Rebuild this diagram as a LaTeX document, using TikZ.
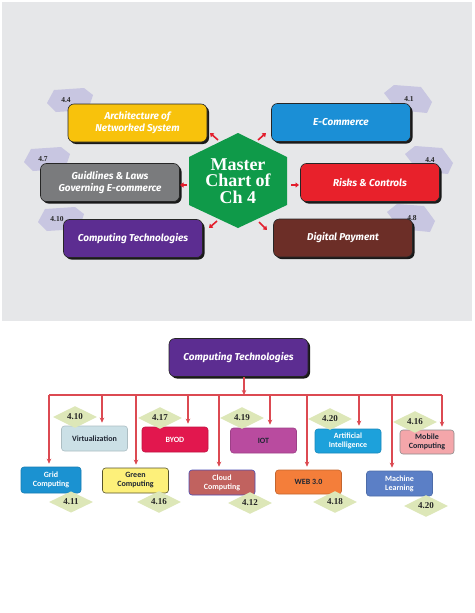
\documentclass[tikz,border=0pt]{standalone}
\usepackage{fontspec}
\setmainfont{Liberation Serif}
\newfontfamily\boxfont{Fira Sans}
\newfontfamily\calfont{Carlito}
\usetikzlibrary{arrows.meta,shapes.geometric,shadows}

\definecolor{panelgray}{HTML}{E6E7E9}
\definecolor{tagcol}{HTML}{C8C6E1}
\definecolor{diacol}{HTML}{DDE7B8}
\definecolor{linered}{HTML}{DC4A52}
\definecolor{arrred}{HTML}{E31E2D}
\definecolor{archcol}{HTML}{F8C20C}
\definecolor{ecomcol}{HTML}{1B8FD6}
\definecolor{guidecol}{HTML}{7A7B7D}
\definecolor{compcol}{HTML}{5C2D91}
\definecolor{riskcol}{HTML}{E8212B}
\definecolor{paycol}{HTML}{6C2E27}
\definecolor{mastercol}{HTML}{0F9A49}
\definecolor{virtcol}{HTML}{CBE0E6}
\definecolor{byodcol}{HTML}{E2174E}
\definecolor{iotcol}{HTML}{B94B9F}
\definecolor{aicol}{HTML}{1DA1DB}
\definecolor{mobcol}{HTML}{F4A6AA}
\definecolor{gridcol}{HTML}{1B92D1}
\definecolor{greencol}{HTML}{FDF07A}
\definecolor{cloudcol}{HTML}{C1625F}
\definecolor{webcol}{HTML}{F47E3A}
\definecolor{mlcol}{HTML}{5B7FC6}
\definecolor{darktext}{HTML}{1F2633}

\tikzset{
  topbox/.style={rounded corners=6pt, draw=black!85, line width=0.6pt,
    minimum width=139pt, minimum height=38pt, align=center, text=white,
    font=\boxfont\bfseries\itshape\fontsize{10}{12}\selectfont,
    drop shadow={shadow xshift=2pt, shadow yshift=-2pt, opacity=1, fill=black!90}},
  tagtext/.style={font=\bfseries\fontsize{7.5}{8}\selectfont, text=black!85, inner sep=0pt},
  toparrow/.style={arrred, line width=1.6pt, -{Triangle[length=3.5pt,width=5pt]}},
  subbox/.style={rounded corners=3pt, minimum width=66pt, minimum height=25pt,
    align=center, inner sep=1pt, line width=0.6pt,
    font=\calfont\bfseries\fontsize{8}{9}\selectfont},
  numdia/.style={diamond, fill=diacol, minimum width=44pt, minimum height=18pt,
    inner sep=0pt, font=\bfseries\fontsize{9}{9}\selectfont, text=black!85},
  bus/.style={linered, line width=1.1pt},
  drop/.style={linered, line width=1.1pt, -{Stealth[length=5pt,width=4.5pt]}},
  pics/tagleft/.style={code={\fill[tagcol] (-19,3) -- (-12,-10) -- (18,-12) -- (27,-5) -- (22,10) -- (-10,12) -- cycle;}},
  pics/tagright/.style={code={\fill[tagcol] (-25,-6) -- (-15,-14) -- (12,-12) -- (23,3) -- (18,14) -- (-12,11) -- cycle;}},
}

\begin{document}
\begin{tikzpicture}[x=1pt,y=-1pt]
        \useasboundingbox (0,0) rectangle (474,613);
        \fill[panelgray] (2,2) rectangle (472,321);

        % number tags behind the boxes
        \pic at (66,100)  {tagleft};
        \pic at (43,159)  {tagleft};
        \pic at (57,219)  {tagleft};
        \pic at (409,99)  {tagright};
        \pic at (430,160) {tagright};
        \pic at (412,218) {tagright};

        \node[topbox,fill=archcol]  (arch)  at (137.5,123) {Architecture of\\Networked System};
        \node[topbox,fill=ecomcol]  (ecom)  at (341,122.5) {E-Commerce};
        \node[topbox,fill=guidecol] (guide) at (110,182.5) {Guidlines \& Laws\\Governing E-commerce};
        \node[topbox,fill=riskcol]  (risk)  at (370,182.5) {Risks \& Controls};
        \node[topbox,fill=compcol]  (comp)  at (133,238.5) {Computing Technologies};
        \node[topbox,fill=paycol]   (pay)   at (343,238)   {Digital Payment};

        \node[tagtext] (t1) at (66,100)  {4.4};
        \node[tagtext] (t2) at (43,159)  {4.7};
        \node[tagtext] (t3) at (57,219)  {4.10};
        \node[tagtext] (t4) at (409,99)  {4.1};
        \node[tagtext] (t5) at (430,160) {4.4};
        \node[tagtext] (t6) at (412,218) {4.8};

        % master hexagon
        \fill[mastercol] (238,133) -- (287,157) -- (287,205) -- (238,228) -- (189,205) -- (189,157) -- cycle;
        \node[text=white,align=center,font=\bfseries\fontsize{18}{16.5}\selectfont] (master) at (238,181) {Master\\Chart of\\Ch 4};

        \coordinate (a1) at (218,140); \coordinate (e1) at (210,133);
        \coordinate (a2) at (258,140); \coordinate (e2) at (266,133);
        \coordinate (a3) at (187,185); \coordinate (e3) at (180,185);
        \coordinate (a4) at (291,185); \coordinate (e4) at (299,185);
        \coordinate (a5) at (217,221); \coordinate (e5) at (209,228);
        \coordinate (a6) at (259,222); \coordinate (e6) at (267,230);
        \foreach \i in {1,...,6}
            \draw[toparrow] (a\i) -- (e\i);

        % lower chart
        \node[topbox,fill=compcol] (ct) at (238.5,357.5) {Computing Technologies};

        \node[subbox,fill=virtcol,draw=virtcol!85!black,text=darktext] (virt)  at (94.5,438.5) {Virtualization};
        \node[subbox,fill=byodcol,draw=byodcol!85!black,text=white]    (byod)  at (175,439.5)  {BYOD};
        \node[subbox,fill=iotcol,draw=iotcol!85!black,text=darktext]   (iot)   at (263.5,440.5) {IOT};
        \node[subbox,fill=aicol,draw=aicol!85!black,text=white,minimum height=24pt] (ai) at (348,441) {Artificial\\Intelligence};
        \node[subbox,fill=mobcol,draw=black!45,text=darktext,minimum width=54pt,minimum height=24pt] (mob) at (427,442) {Mobile\\Computing};
        \node[subbox,fill=gridcol,draw=gridcol!85!black,text=white,minimum width=60pt,minimum height=26pt] (grid) at (51,480) {Grid\\Computing};
        \node[subbox,fill=greencol,draw=black!50!olive,text=darktext] (green) at (135.5,480.5) {Green\\Computing};
        \node[subbox,fill=cloudcol,draw=blue!40!gray,text=white]     (cloud) at (222,482.5) {Cloud\\Computing};
        \node[subbox,fill=webcol,draw=webcol!80!black,text=darktext,minimum height=24pt] (web) at (308.5,482) {WEB 3.0};
        \node[subbox,fill=mlcol,draw=mlcol!85!black,text=white]       (ml)    at (399.5,483.5) {Machine\\Learning};

        \coordinate (bTop) at (244,395);
        \coordinate (bL) at (49,395);
        \coordinate (bR) at (442,395);
        \draw[drop] (ct.south -| bTop) -- (bTop);
        \draw[bus] (bL) -- (bR);

        \coordinate (dGrid)  at (49,395);
        \coordinate (dVirt)  at (102,395);
        \coordinate (dGreen) at (136,395);
        \coordinate (dByod)  at (188,395);
        \coordinate (dCloud) at (219,395);
        \coordinate (dIot)   at (270,395);
        \coordinate (dWeb)   at (307,395);
        \coordinate (dAi)    at (359,395);
        \coordinate (dMl)    at (392,395);
        \coordinate (dMob)   at (442,395);
        \draw[drop,shorten >=3pt] (dGrid)  -- (dGrid |- grid.north);
        \draw[drop,shorten >=3pt] (dVirt)  -- (dVirt |- virt.north);
        \draw[drop,shorten >=3pt] (dGreen) -- (dGreen |- green.north);
        \draw[drop,shorten >=3pt] (dByod)  -- (dByod |- byod.north);
        \draw[drop,shorten >=3pt] (dCloud) -- (dCloud |- cloud.north);
        \draw[drop,shorten >=3pt] (dIot)   -- (dIot |- iot.north);
        \draw[drop,shorten >=3pt] (dWeb)   -- (dWeb |- web.north);
        \draw[drop,shorten >=3pt] (dAi)    -- (dAi |- ai.north);
        \draw[drop,shorten >=3pt] (dMl)    -- (dMl |- ml.north);
        \draw[drop,shorten >=3pt] (dMob)   -- (dMob |- mob.north);

        \node[numdia] (n1)  at (75,417)  {4.10};
        \node[numdia] (n2)  at (160,418) {4.17};
        \node[numdia] (n3)  at (242,418) {4.19};
        \node[numdia] (n4)  at (330,419) {4.20};
        \node[numdia] (n5)  at (415,422) {4.16};
        \node[numdia] (n6)  at (71,502)  {4.11};
        \node[numdia] (n7)  at (159,502) {4.16};
        \node[numdia] (n8)  at (250,503) {4.12};
        \node[numdia] (n9)  at (335,502) {4.18};
        \node[numdia] (n10) at (426,506) {4.20};
\end{tikzpicture}
\end{document}
